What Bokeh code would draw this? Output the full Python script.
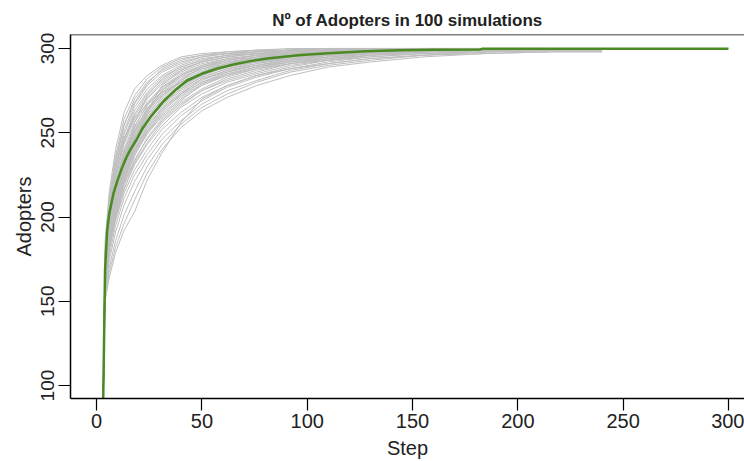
from bokeh.plotting import figure
from bokeh.models import Span, FixedTicker
from bokeh.embed import file_html
from bokeh.resources import INLINE

# ---- data ----
title_text = "Nº of Adopters in 100 simulations"
x_ticks = [0, 50, 100, 150, 200, 250, 300]
y_ticks = [100, 150, 200, 250, 300]

# common step grid for the simulation traces
sim_steps = [3, 4, 6, 9, 13, 18, 24, 31, 40, 50, 62, 76, 92, 110, 130, 155, 185, 215, 240]

sim_values = [
    [80, 185, 215, 240, 262, 276, 284, 290, 295, 297, 298, 299, 300, 300],
    [80, 180, 212, 236, 258, 272, 282, 289, 294, 296, 298, 299, 299, 300, 300],
    [80, 178, 208, 232, 254, 270, 280, 287, 292, 295, 297, 298, 299, 300, 300, 300],
    [80, 176, 206, 230, 251, 267, 278, 286, 291, 295, 297, 298, 299, 299, 300, 300, 300],
    [80, 175, 204, 228, 249, 265, 276, 284, 290, 294, 296, 298, 299, 299, 300, 300, 300, 300],
    [80, 172, 202, 224, 245, 261, 273, 281, 288, 292, 295, 297, 298, 299, 299, 300, 300],
    [80, 171, 200, 222, 243, 258, 270, 279, 286, 291, 294, 296, 298, 299, 299, 300, 300, 300],
    [80, 170, 198, 220, 240, 256, 268, 277, 285, 290, 293, 296, 297, 298, 299, 299, 300, 300, 300],
    [80, 170, 197, 218, 238, 254, 266, 276, 284, 289, 293, 295, 297, 298, 299, 300, 300],
    [80, 169, 196, 217, 236, 252, 264, 274, 282, 288, 292, 295, 297, 298, 299, 299, 300, 300],
    [80, 168, 195, 216, 235, 250, 262, 273, 281, 287, 291, 294, 296, 298, 299, 299, 300, 300],
    [80, 168, 194, 214, 233, 249, 261, 271, 280, 286, 290, 293, 296, 297, 298, 299, 300, 300, 300],
    [80, 167, 193, 213, 232, 247, 259, 270, 279, 285, 290, 293, 295, 297, 298, 299, 299, 300],
    [80, 166, 192, 212, 230, 245, 258, 268, 277, 284, 289, 292, 295, 297, 298, 299, 300],
    [80, 166, 191, 211, 229, 244, 256, 267, 276, 283, 288, 292, 294, 296, 298, 299, 299, 300, 300],
    [80, 165, 190, 210, 228, 242, 255, 265, 275, 282, 287, 291, 294, 296, 298, 299, 300, 300],
    [80, 165, 189, 208, 226, 241, 253, 264, 274, 281, 287, 290, 293, 296, 297, 298, 299, 300],
    [80, 164, 188, 207, 225, 240, 252, 263, 272, 280, 286, 290, 293, 295, 297, 298, 299, 299, 300],
    [80, 164, 187, 206, 224, 238, 250, 261, 271, 279, 285, 289, 292, 295, 297, 298, 299, 300],
    [80, 163, 186, 205, 222, 237, 249, 260, 270, 278, 284, 288, 292, 295, 297, 298, 299, 299, 299],
    [80, 162, 184, 203, 220, 234, 246, 257, 267, 275, 282, 287, 291, 294, 296, 298, 299, 300],
    [80, 161, 182, 200, 217, 231, 243, 254, 265, 273, 280, 285, 290, 293, 296, 297, 299, 299, 299],
    [80, 160, 180, 198, 214, 228, 240, 252, 262, 271, 278, 284, 289, 293, 295, 297, 298, 299, 299],
    [80, 158, 177, 195, 211, 225, 237, 249, 260, 269, 277, 283, 288, 292, 295, 297, 298, 299],
    [80, 156, 174, 191, 207, 221, 234, 246, 257, 267, 275, 281, 287, 291, 294, 296, 298, 299, 299],
    [80, 154, 170, 186, 201, 215, 230, 243, 255, 265, 273, 280, 286, 290, 293, 296, 298, 298, 298],
    [80, 152, 167, 182, 196, 210, 226, 240, 253, 263, 271, 278, 284, 289, 292, 295, 297, 298],
    [80, 150, 164, 179, 192, 203, 222, 238, 256, 270, 278, 284, 288, 291, 294, 296, 297, 298, 298],
    [80, 160, 181, 205, 232, 256, 272, 282, 289, 293, 296, 298, 299, 300, 300],
    [80, 175, 200, 215, 230, 246, 262, 275, 284, 290, 294, 296, 298, 299, 300, 300],
    [80, 170, 205, 230, 247, 259, 267, 274, 280, 286, 291, 294, 297, 298, 299, 300, 300],
    [80, 163, 183, 200, 221, 243, 263, 278, 287, 292, 295, 297, 298, 299, 300, 300, 300, 300],
    [80, 171, 199, 219, 239, 253, 267, 277, 284, 289, 293, 296, 297, 299, 299, 300, 300],
    [80, 169, 194, 218, 234, 251, 263, 275, 283, 288, 291, 295, 297, 298, 299, 300, 300, 300],
    [80, 167, 196, 215, 237, 250, 265, 272, 281, 289, 292, 294, 297, 298, 299, 299, 300],
    [80, 166, 190, 213, 231, 248, 260, 272, 280, 286, 291, 293, 296, 298, 299, 300, 300],
    [80, 168, 192, 210, 233, 246, 259, 269, 278, 285, 289, 294, 296, 297, 299, 299, 300, 300],
    [80, 165, 193, 209, 229, 247, 257, 268, 278, 284, 290, 292, 295, 297, 298, 299, 300],
    [80, 164, 189, 211, 227, 243, 257, 266, 276, 283, 288, 291, 295, 296, 298, 299, 299, 300],
    [80, 163, 188, 204, 226, 239, 254, 264, 273, 282, 286, 290, 294, 296, 298, 299, 300],
    [80, 162, 185, 207, 223, 239, 251, 262, 273, 280, 285, 289, 293, 296, 297, 298, 299, 300],
    [80, 161, 186, 202, 221, 236, 251, 259, 269, 279, 284, 289, 292, 294, 297, 298, 299, 300],
    [80, 160, 183, 201, 219, 233, 247, 258, 268, 276, 283, 288, 291, 294, 296, 298, 299, 299],
    [80, 159, 181, 199, 216, 232, 244, 256, 266, 275, 281, 286, 291, 293, 296, 298, 299],
    [80, 173, 203, 226, 244, 260, 271, 280, 287, 292, 295, 297, 298, 299, 300, 300],
    [80, 174, 201, 225, 246, 263, 274, 283, 289, 293, 296, 297, 299, 299, 300, 300],
    [80, 177, 209, 234, 255, 268, 279, 288, 293, 296, 297, 299, 299, 300, 300],
]

mean_steps = [3, 4, 5, 6, 8, 10, 12, 14, 16, 19, 22, 26, 32, 38, 43, 50, 57, 65, 73, 81,
              90, 97, 112, 128, 144, 160, 182, 183, 300]
mean_values = [80, 168, 192, 202, 214, 222, 229, 235, 240, 246, 253, 260, 269, 276, 281, 285,
               288, 290.5, 292.5, 294, 295.3, 296.2, 297.3, 298.3, 299.0, 299.2, 299.4, 299.8, 299.8]

FONT = "Liberation Sans"
TXT = "#222222"

p = figure(width=744, height=461, output_backend="svg", toolbar_location=None,
           x_range=(-12.4, 307.6), y_range=(92.3, 308.3),
           min_border_left=70, min_border_right=0, min_border_top=34, min_border_bottom=61,
           title=title_text)
p.outline_line_color = None
p.grid.visible = False
p.background_fill_color = "white"
p.border_fill_color = "white"

p.title.align = "center"
p.title.text_font = FONT
p.title.text_font_size = "17px"
p.title.text_font_style = "bold"
p.title.text_color = TXT

xs = [sim_steps[:len(v)] for v in sim_values]
p.multi_line(xs=xs, ys=sim_values, line_color="#bebebe", line_width=1)
p.line(mean_steps, mean_values, line_color="#4a8a22", line_width=2.5)

top = Span(location=308.3, dimension="width", line_color="black", line_width=1.5)
p.add_layout(top)

for ax in (p.xaxis[0], p.yaxis[0]):
    ax.axis_line_color = "black"
    ax.axis_line_width = 1.5
    ax.major_tick_out = 12
    ax.major_tick_in = 0
    ax.minor_tick_out = 0
    ax.minor_tick_in = 0
    ax.major_tick_line_color = "black"
    ax.major_tick_line_width = 1.2
    ax.major_label_text_font = FONT
    ax.major_label_text_color = TXT
    ax.axis_label_text_font = FONT
    ax.axis_label_text_font_style = "normal"
    ax.axis_label_text_color = TXT
    ax.axis_label_text_font_size = "20px"

p.xaxis.ticker = FixedTicker(ticks=x_ticks)
p.yaxis.ticker = FixedTicker(ticks=y_ticks)
p.xaxis.axis_label = "Step"
p.yaxis.axis_label = "Adopters"
p.xaxis.major_label_text_font_size = "20px"
p.yaxis.major_label_text_font_size = "19px"
p.yaxis.major_label_orientation = "vertical"
p.xaxis.major_label_standoff = 3
p.yaxis.major_label_standoff = 4
p.xaxis.axis_label_standoff = 6
p.yaxis.axis_label_standoff = 4

open("out.html", "w").write(file_html(p, INLINE))
